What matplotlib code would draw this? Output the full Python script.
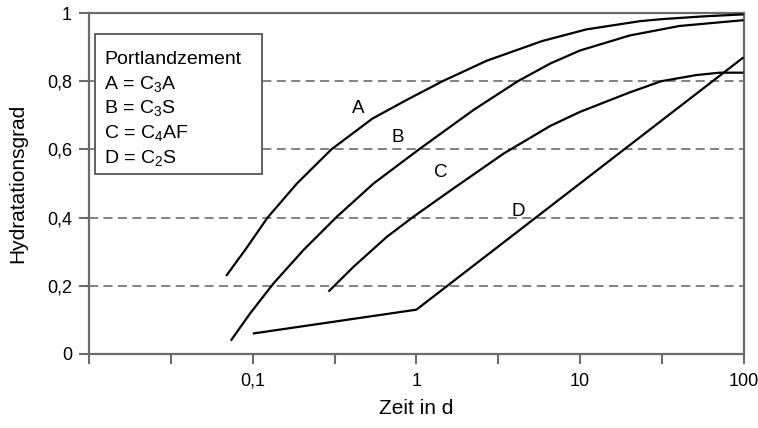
import numpy as np
import matplotlib
matplotlib.use("Agg")
import matplotlib.pyplot as plt
from matplotlib.patches import Rectangle
from matplotlib.ticker import FixedLocator, FixedFormatter, NullLocator

plt.rcParams["font.family"] = ["Liberation Sans", "DejaVu Sans"]
plt.rcParams["mathtext.fontset"] = "custom"
plt.rcParams["mathtext.rm"] = "Liberation Sans"
plt.rcParams["mathtext.it"] = "Liberation Sans:italic"

# curves (time in days, degree of hydration)
a_t = [0.0687, 0.0912, 0.123, 0.186, 0.302, 0.537, 0.871, 1.445, 2.69, 5.89,
       10.96, 23.2, 31.6, 56.2, 100]
a_h = [0.229, 0.31, 0.40, 0.50, 0.60, 0.69, 0.745, 0.80, 0.86, 0.918,
       0.952, 0.976, 0.982, 0.99, 0.996]

b_t = [0.0733, 0.0962, 0.1337, 0.204, 0.327, 0.547, 1.057, 2.239, 4.17, 6.59,
       10.0, 20.1, 40.6, 100]
b_h = [0.039, 0.119, 0.207, 0.305, 0.403, 0.50, 0.603, 0.716, 0.80, 0.852,
       0.89, 0.934, 0.962, 0.979]

c_t = [0.290, 0.413, 0.661, 0.962, 1.69, 3.42, 6.59, 10.0, 20.1, 31.4, 51.4, 71.3, 100]
c_h = [0.183, 0.256, 0.344, 0.403, 0.486, 0.588, 0.669, 0.71, 0.767, 0.80, 0.818,
       0.825, 0.825]

d_t = [0.1, 1.0, 100]
d_h = [0.06, 0.13, 0.87]

curve_names = ["A", "B", "C", "D"]
name_pos = [(0.44, 0.721), (0.764, 0.636), (1.40, 0.531), (4.2, 0.419)]

legend_lines = ["Portlandzement", "A = C$_3$A", "B = C$_3$S", "C = C$_4$AF", "D = C$_2$S"]

x_ticks = [0.01, 0.0316, 0.1, 0.316, 1, 3.16, 10, 31.6, 100]
x_labels = ["", "", "0,1", "", "1", "", "10", "", "100"]
y_ticks = [0, 0.2, 0.4, 0.6, 0.8, 1]
y_labels = ["0", "0,2", "0,4", "0,6", "0,8", "1"]

axis_grey = "#6b6b6b"

fig = plt.figure(figsize=(7.58, 4.28), dpi=100)
ax = fig.add_axes([0.1178, 0.1729, 0.8631, 0.7967])

for t, h in [(a_t, a_h), (b_t, b_h), (c_t, c_h), (d_t, d_h)]:
    ax.plot(t, h, color="black", lw=1.6, solid_capstyle="butt",
            solid_joinstyle="round", zorder=4)

for name, (tx, ty) in zip(curve_names, name_pos):
    ax.text(tx, ty, name, fontsize=13.5, ha="center", va="center", zorder=5)

ax.set_xscale("log")
ax.set_xlim(0.01, 100)
ax.set_ylim(0, 1)

ax.xaxis.set_major_locator(FixedLocator(x_ticks))
ax.xaxis.set_major_formatter(FixedFormatter(x_labels))
ax.xaxis.set_minor_locator(NullLocator())
ax.set_yticks(y_ticks)
ax.set_yticklabels(y_labels)

for h in y_ticks[1:-1]:
    ax.axhline(h, color="#777777", lw=1.3, ls=(0, (5, 3)), zorder=1)

for side in ["left", "right", "top", "bottom"]:
    ax.spines[side].set_color(axis_grey)
    ax.spines[side].set_linewidth(1.6)

ax.tick_params(axis="both", direction="out", length=7.5, width=1.5, color=axis_grey,
               labelsize=13)
ax.tick_params(axis="x", pad=6)
ax.tick_params(axis="y", pad=5)

ax.set_xlabel("Zeit in d", fontsize=15, labelpad=7)
ax.set_ylabel("Hydratationsgrad", fontsize=15, labelpad=14)

# legend box with the cement phases
box = Rectangle((0.0087, 0.528), 0.2553, 0.4106, transform=ax.transAxes,
                facecolor="white", edgecolor="#555555", lw=1.3, zorder=3)
ax.add_patch(box)
for i, line in enumerate(legend_lines):
    ax.text(0.0225, 0.8504 - i * 0.0725, line, transform=ax.transAxes,
            fontsize=14, ha="left", va="baseline", zorder=5)

fig.savefig("out.png", dpi=100)
